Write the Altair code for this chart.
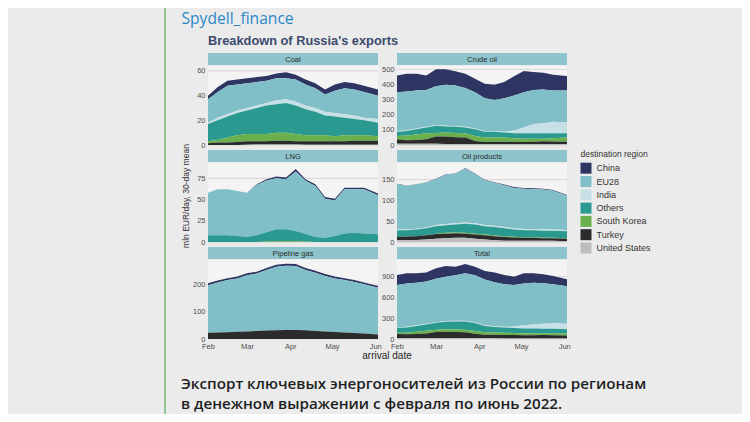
import altair as alt
import pandas as pd

# ---------------- data ----------------
DATES = ["2022-02-01", "2022-02-08", "2022-02-15", "2022-02-22", "2022-03-01", "2022-03-08",
         "2022-03-15", "2022-03-22", "2022-03-29", "2022-04-05", "2022-04-12", "2022-04-19",
         "2022-04-26", "2022-05-03", "2022-05-10", "2022-05-17", "2022-05-24", "2022-06-03"]

REGIONS = ["China", "EU28", "India", "Others", "South Korea", "Turkey", "United States"]
COLORS = ["#2f3563", "#80bfc7", "#c6e0e6", "#2a9a90", "#6ab04c", "#2b2b2b", "#bdbdbd"]

COAL = {
    "United States": [0, 0, 0, 0, 0.3, 0.5, 0.5, 0.5, 0.5, 0.5, 0.3, 0.3, 0.3, 0.3, 0.2, 0.2, 0.2, 0.2],
    "Turkey": [1.5, 2, 2, 2.5, 2.7, 2.5, 2.5, 3, 3, 2.5, 2.7, 2.7, 2.7, 2.7, 2.8, 3.3, 3.3, 3.3],
    "South Korea": [1.5, 2, 4, 5.5, 6, 6, 6, 6.5, 6.5, 6, 5, 5, 5, 4, 5, 4.5, 4.5, 3.5],
    "Others": [14, 16, 17, 18, 19, 21, 23, 23, 24, 23, 21, 19, 16, 16, 14, 13, 12, 11],
    "India": [1, 2, 2, 2, 2, 2, 2, 3, 3, 3, 3, 3, 3, 3, 3, 3, 2, 3],
    "EU28": [19, 21, 23, 21, 20, 19, 18, 18, 17, 18, 17, 16, 14, 18, 21, 21, 21, 19],
    "China": [3, 4, 4, 4, 4, 4, 4, 4, 5, 4, 4, 4, 4, 5, 5, 5, 5, 5],
}
CRUDE = {
    "United States": [8, 8, 8, 8, 8, 6, 6, 6, 6, 6, 6, 6, 6, 6, 6, 6, 6, 6],
    "Turkey": [30, 23, 25, 30, 48, 50, 46, 43, 21, 14, 15, 16, 15, 14, 16, 18, 17, 16],
    "South Korea": [22, 31, 37, 40, 24, 26, 28, 29, 33, 29, 28, 27, 24, 22, 20, 18, 22, 27],
    "Others": [27, 31, 34, 38, 47, 40, 40, 38, 44, 38, 38, 33, 33, 36, 36, 36, 33, 29],
    "India": [5, 5, 5, 5, 5, 5, 5, 5, 5, 5, 5, 6, 17, 38, 60, 66, 75, 71],
    "EU28": [257, 255, 251, 243, 257, 271, 268, 255, 240, 217, 206, 221, 232, 233, 226, 223, 207, 211],
    "China": [111, 118, 111, 95, 111, 102, 94, 95, 89, 95, 100, 107, 128, 140, 118, 111, 104, 96],
}
LNG = {
    "United States": [0] * 18,
    "Turkey": [0] * 18,
    "South Korea": [0, 0, 0, 0, 0, 0, 0.5, 1, 1, 1, 0.5, 0, 0, 0, 0, 0, 0, 0],
    "Others": [8, 8, 8, 7, 6, 8, 11, 14, 14, 12, 9, 6, 5, 7, 10, 11, 10, 9],
    "India": [0] * 18,
    "EU28": [50, 54, 54, 53, 52, 59, 61, 60, 59, 70, 62.5, 60, 46, 42, 52, 51, 52, 46],
    "China": [0, 0, 0, 0, 0, 1, 1.5, 2, 2, 3, 2, 2, 2, 2, 2, 2, 2, 2],
}
OIL_PRODUCTS = {
    "United States": [4, 4, 5, 6, 8, 9, 10, 10, 8, 6, 4, 3, 3, 3, 3, 3, 3, 2],
    "Turkey": [8, 9, 9, 10, 11, 11, 11, 10, 10, 10, 10, 9, 8, 7, 7, 6, 6, 6],
    "South Korea": [0, 0, 0, 0, 1, 2, 2, 2, 2, 2, 2, 1.5, 1.5, 1.5, 1.5, 1.5, 1.5, 1],
    "Others": [16, 15, 16, 17, 18, 18, 19, 22, 22, 20, 20, 19.5, 17.5, 16.5, 16.5, 16.5, 16.5, 17],
    "India": [2, 2, 2, 2, 3, 3, 3, 3, 3, 3, 3, 3, 3, 3, 3, 3, 3, 3],
    "EU28": [109, 105, 106, 108, 110, 119, 119, 129.5, 118.5, 107.5, 103.5, 100.5, 97, 97, 96, 96, 93, 82],
    "China": [1, 1, 1, 1, 1, 1, 1, 1.5, 1.5, 1.5, 1.5, 1.5, 2, 2, 2, 2, 2, 2],
}
PIPELINE = {
    "United States": [0] * 18,
    "Turkey": [23, 24, 25, 27, 28, 30, 31, 32, 33, 33, 32, 30, 28, 26, 24, 22, 20, 17],
    "South Korea": [0] * 18,
    "Others": [0] * 18,
    "India": [0] * 18,
    "EU28": [176, 185, 193, 197, 208, 212, 224, 235, 238, 237, 223, 215, 205, 198, 194, 189, 182, 172],
    "China": [7, 7, 7, 7, 7, 7, 7, 7, 7, 7, 7, 7, 7, 7, 7, 7, 7, 7],
}
TOTAL = {
    "United States": [12, 12, 13, 14, 16, 15, 16, 16, 14, 12, 10, 9, 9, 9, 9, 9, 9, 8],
    "Turkey": [60, 55, 58, 65, 85, 90, 85, 82, 62, 50, 50, 50, 47, 44, 45, 47, 45, 42],
    "South Korea": [20, 25, 35, 40, 32, 34, 36, 36, 38, 36, 34, 32, 30, 27, 26, 24, 27, 28],
    "Others": [70, 75, 82, 90, 100, 110, 115, 120, 118, 90, 80, 75, 72, 72, 70, 68, 66, 62],
    "India": [8, 8, 10, 10, 10, 10, 10, 10, 10, 10, 10, 10, 22, 45, 60, 72, 80, 80],
    "EU28": [610, 625, 612, 611, 627, 641, 658, 686, 678, 662, 636, 614, 600, 603, 600, 585, 563, 540],
    "China": [144, 148, 138, 128, 150, 154, 124, 133, 124, 122, 138, 134, 120, 148, 138, 129, 120, 101],
}

PANEL_NAMES = ["Coal", "Crude oil", "LNG", "Oil products", "Pipeline gas", "Total"]
PANEL_VALUES = [COAL, CRUDE, LNG, OIL_PRODUCTS, PIPELINE, TOTAL]
Y_TICKS = [[0, 20, 40, 60], [0, 100, 200, 300, 400, 500], [0, 25, 50, 75],
           [0, 50, 100, 150], [0, 100, 200], [0, 300, 600, 900]]
Y_MAX = [64, 522, 93, 190, 292, 1140]

# ---------------- layout / style ----------------
W, H = 734, 406
BG = "#ebebeb"
PANEL_BG = "#f4f4f4"
STRIP = "#8ec5cc"
GRID = "#cdcdcd"
FONT = "Liberation Sans"
X_RANGES = [(200, 370), (389, 559)]
ROW_PLOT = [(58, 137), (155, 234), (252, 331)]
ROW_STRIP = [(45, 57), (142, 154), (239, 251)]

XDOM = [alt.DateTime(year=2022, month=2, date=1), alt.DateTime(year=2022, month=6, date=3)]
XTICKS = [alt.DateTime(year=2022, month=m, date=1) for m in range(2, 7)]

color_scale = alt.Scale(domain=REGIONS, range=COLORS)
legend = alt.Legend(
    title="destination region", orient="none", legendX=572.5, legendY=142,
    titleFont=FONT, titleFontSize=8.5, titleFontWeight="normal", titleColor="#333333",
    titlePadding=4.2, labelFont=FONT, labelFontSize=9, labelColor="#333333",
    symbolType="square", symbolSize=121, symbolStrokeWidth=0, symbolOpacity=1,
    rowPadding=2.3, labelOffset=5, padding=0,
)

one = pd.DataFrame({"k": [0]})


def frame(values):
    rows = []
    n = len(REGIONS)
    for k, region in enumerate(REGIONS):
        for d, v in zip(DATES, values[region]):
            rows.append({"date": d, "region": region, "value": v, "stack_order": n - 1 - k})
    df = pd.DataFrame(rows)
    df["date"] = pd.to_datetime(df["date"])
    return df


layers = []
# green side line of the post
layers.append(alt.Chart(one).mark_rule(color="#93c293", strokeWidth=2).encode(
    x=alt.value(157), y=alt.value(0), y2=alt.value(H)))

data_layers = []
for i, (name, vals, ticks, ymax) in enumerate(zip(PANEL_NAMES, PANEL_VALUES, Y_TICKS, Y_MAX)):
    col, row = i % 2, i // 2
    x0, x1 = X_RANGES[col]
    ytop, ybot = ROW_PLOT[row]
    stop, sbot = ROW_STRIP[row]
    # panel background and strip
    layers.append(alt.Chart(one).mark_rect(color=PANEL_BG).encode(
        x=alt.value(x0), x2=alt.value(x1), y=alt.value(ytop), y2=alt.value(ybot)))
    layers.append(alt.Chart(one).mark_rect(color=STRIP).encode(
        x=alt.value(x0), x2=alt.value(x1), y=alt.value(stop), y2=alt.value(sbot)))
    layers.append(alt.Chart(pd.DataFrame({"t": [name]})).mark_text(
        font=FONT, fontSize=7.5, color="#2b2b2b", baseline="middle", align="center").encode(
        x=alt.value((x0 + x1) / 2), y=alt.value((stop + sbot) / 2 + 0.5), text="t:N"))

    yscale = alt.Scale(domain=[0, ymax], range=[ybot, ytop], nice=False, zero=True)
    xscale = alt.Scale(domain=XDOM, range=[x0, x1])
    yaxis = alt.Axis(values=ticks, title=None, orient="left", offset=-x0, grid=False,
                     domain=False, ticks=False, labelPadding=3, labelFont=FONT,
                     labelFontSize=7.5, labelColor="#4d4d4d")
    if row == 2:
        xaxis = alt.Axis(values=XTICKS, format="%b", title=None, orient="bottom",
                         offset=ybot - H, grid=False, domain=False, ticks=False,
                         labelPadding=3.5, labelFont=FONT, labelFontSize=7.5,
                         labelColor="#4d4d4d", labelFlush=False)
    else:
        xaxis = None

    grid = alt.Chart(pd.DataFrame({"tick": ticks})).mark_rule(color=GRID, strokeWidth=0.8).encode(
        y=alt.Y("tick:Q", scale=yscale, axis=yaxis),
        x=alt.value(x0), x2=alt.value(x1))
    area = alt.Chart(frame(vals)).mark_area(interpolate="linear").encode(
        x=alt.X("date:T", scale=xscale, axis=xaxis),
        y=alt.Y("value:Q", stack="zero", scale=yscale, axis=yaxis),
        color=alt.Color("region:N", scale=color_scale, legend=legend),
        order=alt.Order("stack_order:Q", sort="ascending"),
    )
    data_layers.append(alt.layer(grid, area))

texts = [
    ("Spydell_finance", 173.5, 4, "Open Sans", 15.6, "normal", "#2a88c9", "top"),
    ("Breakdown of Russia's exports", 200, 36.5, FONT, 12.8, "bold", "#3c4a6e", "alphabetic"),
    ("Экспорт ключевых энергоносителей из России по регионам", 173, 381, "Open Sans", 15.2, 600, "#1e1e1e", "alphabetic"),
    ("в денежном выражении с февраля по июнь 2022.", 173, 401, "Open Sans", 15.2, 600, "#1e1e1e", "alphabetic"),
]
for t, x, y, f, s, wgt, c, bl in texts:
    layers.append(alt.Chart(one).mark_text(
        text=t, font=f, fontSize=s, fontWeight=wgt, color=c, align="left", baseline=bl).encode(
        x=alt.value(x), y=alt.value(y)))

layers.append(alt.Chart(one).mark_text(
    text="mln EUR/day, 30-day mean", font=FONT, fontSize=8.5, color="#333333",
    angle=270, align="center", baseline="middle").encode(x=alt.value(178), y=alt.value(188)))
layers.append(alt.Chart(one).mark_text(
    text="arrival date", font=FONT, fontSize=10, color="#222222",
    align="center", baseline="middle").encode(x=alt.value(379), y=alt.value(348)))

chart = alt.layer(*layers, *data_layers).resolve_scale(
    x="independent", y="independent").resolve_axis(x="independent", y="independent").properties(
    width=W, height=H, autosize=alt.AutoSizeParams(type="none"), padding=0, background=BG,
).configure_view(stroke=None)

chart.save("out.html", embed_options={"renderer": "svg", "actions": False})
